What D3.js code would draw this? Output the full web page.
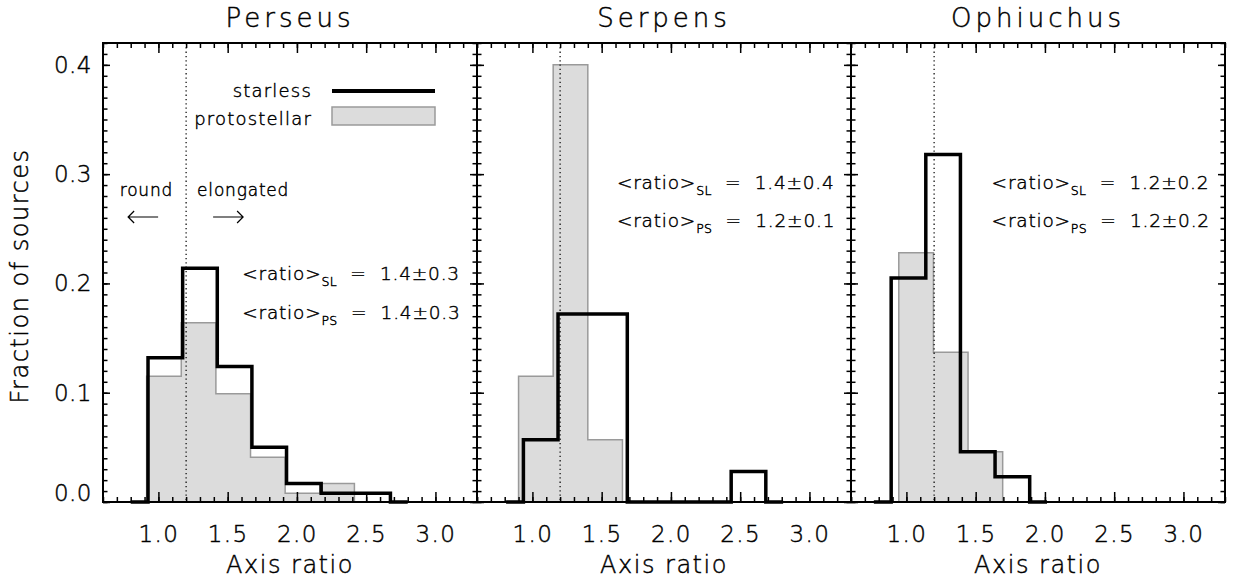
<!DOCTYPE html>
<html>
<head>
<meta charset="utf-8">
<script src="https://cdn.jsdelivr.net/npm/d3@7"></script>
<style>
  body { margin: 0; background: #fff; }
  svg text { font-family: "DejaVu Sans", sans-serif; font-weight: 200; fill: #000; stroke: #000; stroke-width: 0.45px; white-space: pre; }
  .tick text { font-family: "DejaVu Sans", sans-serif; }
</style>
</head>
<body>
<div id="wrapper"></div>
<script>
// data
const regions = ["Perseus", "Serpens", "Ophiuchus"]
const binWidth = 0.25
const starlessStart = [0.925, 0.935, 0.89]
const starlessFraction = [
  [0.132, 0.214, 0.124, 0.050, 0.017, 0.008, 0.008],
  [0.057, 0.172, 0.172, 0.000, 0.000, 0.000, 0.028],
  [0.205, 0.318, 0.046, 0.023],
]
const protoStart = [0.915, 0.90, 0.945]
const protoFraction = [
  [0.115, 0.164, 0.099, 0.041, 0.008, 0.017],
  [0.115, 0.400, 0.057],
  [0.228, 0.137, 0.046],
]
const meanStarless = ["1.4±0.3", "1.4±0.4", "1.2±0.2"]
const meanProto = ["1.4±0.3", "1.2±0.1", "1.2±0.2"]
const xTicks = [1.0, 1.5, 2.0, 2.5, 3.0]
const yTicks = [0.0, 0.1, 0.2, 0.3, 0.4]
const splitRatio = 1.2

// where the mean labels sit, in data units [x, y first line, y second line]
const statsPos = [[1.605, 0.203, 0.167], [1.61, 0.286, 0.252], [1.615, 0.286, 0.252]]

const dimensions = {
  width: 1235,
  height: 580,
  margin: { top: 43, left: 103 },
  panelWidth: 374,
  panelHeight: 459,
}

const svg = d3.select("#wrapper")
  .append("svg")
    .attr("width", dimensions.width)
    .attr("height", dimensions.height)

const xScale = d3.scaleLinear()
  .domain([0.6, 3.3])
  .range([0, dimensions.panelWidth])

const yScale = d3.scaleLinear()
  .domain([0, 0.42])
  .range([dimensions.panelHeight, 0])

const stepLine = d3.line()
  .x(d => xScale(d[0]))
  .y(d => yScale(d[1]))

function steps(start, values) {
  const pts = []
  values.forEach((v, i) => {
    pts.push([start + i * binWidth, v], [start + (i + 1) * binWidth, v])
  })
  return pts
}

// starless: IDL psym=10 style, half bin of zero at both ends
function starlessPoints(start, values) {
  const end = start + values.length * binWidth
  return [[start - binWidth / 2, 0], [start, 0], ...steps(start, values), [end, 0], [end + binWidth / 2, 0]]
}

function protoPoints(start, values) {
  const end = start + values.length * binWidth
  return [[start, 0], ...steps(start, values), [end, 0]]
}

const minorX = d3.range(6, 34).map(d => d / 10)
const minorY = d3.range(0, 43).map(d => d / 100)

regions.forEach((region, i) => {
  const bounds = svg.append("g")
    .attr("transform", `translate(${dimensions.margin.left + i * dimensions.panelWidth}, ${dimensions.margin.top})`)

  // protostellar, grey filled
  bounds.append("path")
    .attr("d", stepLine(protoPoints(protoStart[i], protoFraction[i])) + "Z")
    .attr("fill", "#dcdcdc")
    .attr("stroke", "#9a9a9a")
    .attr("stroke-width", 1.5)

  // dotted line at ratio 1.2
  bounds.append("line")
    .attr("x1", xScale(splitRatio))
    .attr("x2", xScale(splitRatio))
    .attr("y1", 0)
    .attr("y2", dimensions.panelHeight)
    .attr("stroke", "#000")
    .attr("stroke-width", 1.2)
    .attr("stroke-dasharray", "1.3,3")

  // starless, thick black
  bounds.append("path")
    .attr("d", stepLine(starlessPoints(starlessStart[i], starlessFraction[i])))
    .attr("fill", "none")
    .attr("stroke", "#000")
    .attr("stroke-width", 3.5)
    .attr("stroke-linejoin", "miter")

  // axes, ticks pointing inward
  const fmt = d3.format(".1f")
  const xAxisBottom = bounds.append("g")
    .attr("transform", `translate(0, ${dimensions.panelHeight})`)
    .call(d3.axisBottom(xScale).tickValues(xTicks).tickSize(-10).tickPadding(24).tickFormat(fmt))
  xAxisBottom.selectAll(".tick text").attr("font-size", 23).attr("letter-spacing", 1.5)

  bounds.append("g")
    .attr("transform", `translate(0, ${dimensions.panelHeight})`)
    .call(d3.axisBottom(xScale).tickValues(minorX).tickSize(-5).tickFormat(""))
  bounds.append("g")
    .call(d3.axisTop(xScale).tickValues(xTicks).tickSize(-10).tickFormat(""))
  bounds.append("g")
    .call(d3.axisTop(xScale).tickValues(minorX).tickSize(-5).tickFormat(""))

  const yAxisLeft = bounds.append("g")
    .call(d3.axisLeft(yScale).tickValues(yTicks).tickSize(-7).tickPadding(11).tickFormat(i === 0 ? fmt : ""))
  bounds.append("g")
    .call(d3.axisLeft(yScale).tickValues(minorY).tickSize(-4.5).tickFormat(""))
  bounds.append("g")
    .attr("transform", `translate(${dimensions.panelWidth}, 0)`)
    .call(d3.axisRight(yScale).tickValues(yTicks).tickSize(-7).tickFormat(""))
  bounds.append("g")
    .attr("transform", `translate(${dimensions.panelWidth}, 0)`)
    .call(d3.axisRight(yScale).tickValues(minorY).tickSize(-4.5).tickFormat(""))

  yAxisLeft.selectAll(".tick text")
    .attr("font-size", 23)
    .attr("letter-spacing", 0.5)
    .attr("dy", d => d === 0 ? "-0.05em" : "0.32em")

  bounds.selectAll(".domain").remove()
  bounds.selectAll(".tick line").attr("stroke", "#000").attr("stroke-width", 1.5)

  bounds.append("rect")
    .attr("width", dimensions.panelWidth)
    .attr("height", dimensions.panelHeight)
    .attr("fill", "none")
    .attr("stroke", "#000")
    .attr("stroke-width", 2)

  // title and x label
  bounds.append("text")
    .attr("x", dimensions.panelWidth / 2)
    .attr("y", -16)
    .attr("text-anchor", "middle")
    .attr("font-size", 26)
    .attr("letter-spacing", 4)
    .text(region)

  bounds.append("text")
    .attr("x", dimensions.panelWidth / 2)
    .attr("y", 530)
    .attr("text-anchor", "middle")
    .attr("font-size", 24)
    .attr("letter-spacing", 1.5)
    .text("Axis ratio")

  // mean ratios
  const lines = [["SL", meanStarless[i], statsPos[i][1]], ["PS", meanProto[i], statsPos[i][2]]]
  lines.forEach(([sub, val, yv]) => {
    const t = bounds.append("text")
      .attr("x", xScale(statsPos[i][0]))
      .attr("y", yScale(yv))
      .attr("font-size", 18.5)
      .attr("letter-spacing", 0.8)
    t.append("tspan").text("<ratio>")
    t.append("tspan").attr("dy", 6).attr("font-size", 12.5).attr("letter-spacing", 0.3).text(sub)
    t.append("tspan").attr("dy", -6).text("  =  " + val)
  })

  if (i === 0) {
    // legend
    const legend = bounds.append("g")
    legend.append("text")
      .attr("x", 209).attr("y", 54)
      .attr("text-anchor", "end")
      .attr("font-size", 18)
      .attr("letter-spacing", 1.2)
      .text("starless")
    legend.append("line")
      .attr("x1", 229).attr("x2", 332)
      .attr("y1", 48).attr("y2", 48)
      .attr("stroke", "#000").attr("stroke-width", 4)
    legend.append("text")
      .attr("x", 209).attr("y", 82)
      .attr("text-anchor", "end")
      .attr("font-size", 18)
      .attr("letter-spacing", 1.2)
      .text("protostellar")
    legend.append("rect")
      .attr("x", 229).attr("y", 64)
      .attr("width", 103).attr("height", 18)
      .attr("fill", "#dcdcdc")
      .attr("stroke", "#9a9a9a")
      .attr("stroke-width", 1.5)

    // round / elongated annotation
    const sx = xScale(splitRatio)
    bounds.append("text")
      .attr("x", sx - 13).attr("y", 153)
      .attr("text-anchor", "end")
      .attr("font-size", 17)
      .attr("letter-spacing", 0.8)
      .text("round")
    bounds.append("text")
      .attr("x", sx + 11).attr("y", 153)
      .attr("font-size", 17)
      .attr("letter-spacing", 0.8)
      .text("elongated")

    const ay = 174
    bounds.append("path")
      .attr("d", `M${sx - 28},${ay}H${sx - 58}M${sx - 52},${ay - 6}L${sx - 58},${ay}L${sx - 52},${ay + 6}`)
      .attr("fill", "none").attr("stroke", "#000").attr("stroke-width", 1.2)
    bounds.append("path")
      .attr("d", `M${sx + 27},${ay}H${sx + 57}M${sx + 51},${ay - 6}L${sx + 57},${ay}L${sx + 51},${ay + 6}`)
      .attr("fill", "none").attr("stroke", "#000").attr("stroke-width", 1.2)
  }
})

// shared y label
svg.append("text")
  .attr("transform", `translate(28, ${dimensions.margin.top + 233}) rotate(-90)`)
  .attr("text-anchor", "middle")
  .attr("font-size", 24)
  .attr("letter-spacing", 1.5)
  .text("Fraction of sources")
</script>
</body>
</html>
